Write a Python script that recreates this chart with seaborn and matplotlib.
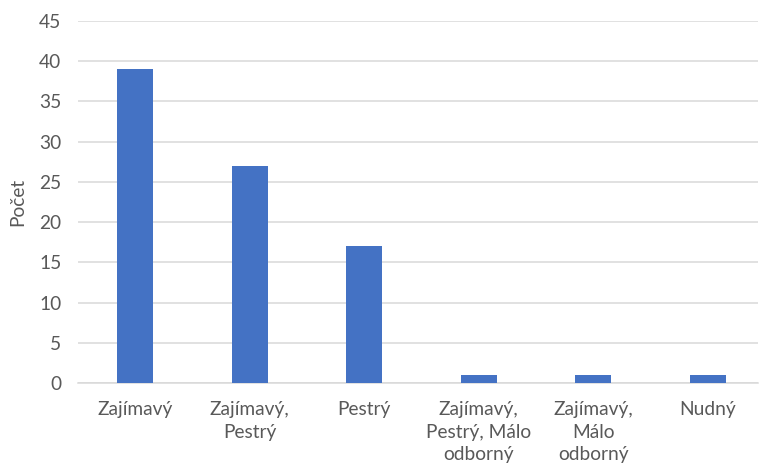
import matplotlib
matplotlib.use("Agg")
import matplotlib.pyplot as plt
import seaborn as sns
import pandas as pd

categories = ["Zajímavý", "Zajímavý,\nPestrý", "Pestrý",
              "Zajímavý,\nPestrý, Málo\nodborný", "Zajímavý,\nMálo\nodborný", "Nudný"]
values = [39, 27, 17, 1, 1, 1]
yticks = [0, 5, 10, 15, 20, 25, 30, 35, 40, 45]

df = pd.DataFrame({"cat": categories, "val": values})

sns.set_theme(style="white")
plt.rcParams['font.family'] = ['Lato', 'DejaVu Sans']

W, H = 759, 466
fig = plt.figure(figsize=(W / 100, H / 100), dpi=100)
ax = fig.add_axes([78 / W, (H - 383) / H, (758 - 78) / W, (383 - 21) / H])

sns.barplot(data=df, x="cat", y="val", color="#4472C4", width=0.315,
            saturation=1, ax=ax, zorder=3, edgecolor="none", linewidth=0)

ax.set_ylim(0, 45)
ax.set_xlim(-0.5, 5.44)
ax.set_yticks(yticks)
ax.yaxis.grid(True, color="#D9D9D9", linewidth=1.1, zorder=0)
ax.set_axisbelow(True)
for s in ["top", "right", "left"]:
    ax.spines[s].set_visible(False)
ax.spines["bottom"].set_color("#D9D9D9")
ax.spines["bottom"].set_linewidth(1.1)
ax.tick_params(axis="both", length=0, labelsize=13.8, labelcolor="#595959")
ax.tick_params(axis="y", pad=12)
ax.tick_params(axis="x", pad=13)
for lbl in ax.get_xticklabels():
    lbl.set_linespacing(1.4)
ax.set_xlabel("")
ax.set_ylabel("Počet", fontsize=13.8, color="#595959", labelpad=9)

fig.savefig("out.png", dpi=100)
